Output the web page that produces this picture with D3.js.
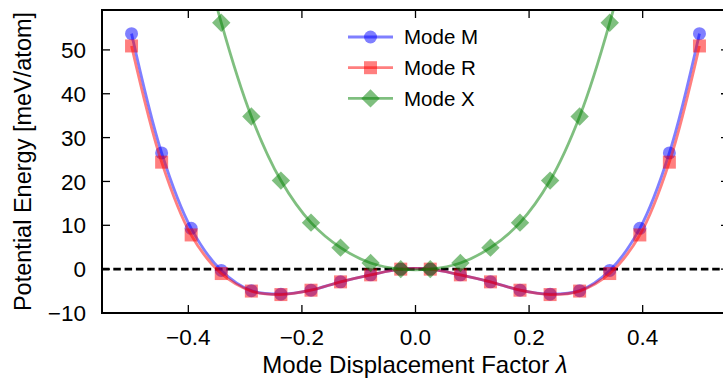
<!DOCTYPE html>
<html>
<head>
<meta charset="utf-8">
<script src="https://cdn.jsdelivr.net/npm/d3@7"></script>
<style>
  body { margin: 0; background: #fff; }
  svg { display: block; font-family: "Liberation Sans", Arial, sans-serif; }
</style>
</head>
<body>
<div id="chart"></div>
<script>
// displacement factor lambda
const lambdas = [-0.5, -0.447, -0.395, -0.342, -0.289, -0.237, -0.184, -0.132, -0.079, -0.026,
                 0.026, 0.079, 0.132, 0.184, 0.237, 0.289, 0.342, 0.395, 0.447, 0.5];
const modeM = [53.7, 26.5, 9.3, -0.3, -4.9, -5.7, -4.8, -2.9, -1.3, 0.0,
               0.0, -1.3, -2.9, -4.8, -5.7, -4.9, -0.3, 9.3, 26.5, 53.7];
const modeR = [50.9, 24.4, 7.8, -1.0, -5.0, -5.8, -4.8, -2.9, -1.3, 0.0,
               0.0, -1.3, -2.9, -4.8, -5.8, -5.0, -1.0, 7.8, 24.4, 50.9];
const modeX = [170, 122, 84, 56.2, 34.8, 20.2, 10.6, 4.9, 1.4, 0.0,
               0.0, 1.4, 4.9, 10.6, 20.2, 34.8, 56.2, 84, 122, 170];
const xTicks = [-0.4, -0.2, 0.0, 0.2, 0.4];
const yTicks = [-10, 0, 10, 20, 30, 40, 50];

const series = [
    { name: 'Mode M', values: modeM, color: '#0000ff', marker: 'circle' },
    { name: 'Mode R', values: modeR, color: '#ff0000', marker: 'square' },
    { name: 'Mode X', values: modeX, color: '#008000', marker: 'diamond' }
];

const width = 723, height = 378;
const plot = { left: 102, right: 729, top: 10, bottom: 313 };

const x = d3.scaleLinear().domain([-0.552, 0.552]).range([plot.left, plot.right]);
const y = d3.scaleLinear().domain([-10, 59.1]).range([plot.bottom, plot.top]);

const minus = s => s.replace('-', '\u2212');

const svg = d3.select('#chart').append('svg')
    .attr('width', width)
    .attr('height', height);

svg.append('defs').append('clipPath').attr('id', 'clip')
    .append('rect')
    .attr('x', plot.left).attr('y', plot.top)
    .attr('width', plot.right - plot.left).attr('height', plot.bottom - plot.top);

// zero line
svg.append('line')
    .attr('x1', plot.left).attr('x2', plot.right)
    .attr('y1', y(0)).attr('y2', y(0))
    .attr('stroke', '#000')
    .attr('stroke-width', 2.6)
    .attr('stroke-dasharray', '7.5,3.8');

const symbolPath = {
    circle: d3.symbol().type(d3.symbolCircle).size(Math.PI * 6.5 * 6.5),
    square: d3.symbol().type(d3.symbolSquare).size(13 * 13),
    diamond: d3.symbol().type(d3.symbolSquare).size(13 * 13)
};
const symbolRotate = { circle: 0, square: 0, diamond: 45 };

const line = d3.line()
    .x(d => x(d[0]))
    .y(d => y(d[1]))
    .curve(d3.curveCatmullRom);

const dataArea = svg.append('g').attr('clip-path', 'url(#clip)');

series.forEach(s => {
    const pts = lambdas.map((l, i) => [l, s.values[i]]);
    const g = dataArea.append('g');
    g.append('path')
        .datum(pts)
        .attr('d', line)
        .attr('fill', 'none')
        .attr('stroke', s.color)
        .attr('stroke-opacity', 0.5)
        .attr('stroke-width', 2.8);
    g.selectAll('path.marker').data(pts).enter()
        .append('path')
        .attr('class', 'marker')
        .attr('d', symbolPath[s.marker])
        .attr('transform', d => `translate(${x(d[0])},${y(d[1])}) rotate(${symbolRotate[s.marker]})`)
        .attr('fill', s.color)
        .attr('fill-opacity', 0.5);
});

// axes with inward ticks
const tickLen = 8;
const axisG = svg.append('g');

axisG.selectAll('line.xt').data(xTicks).enter().append('line')
    .attr('x1', d => x(d)).attr('x2', d => x(d))
    .attr('y1', plot.bottom).attr('y2', plot.bottom - tickLen)
    .attr('stroke', '#000').attr('stroke-width', 1.3);
axisG.selectAll('line.xtt').data(xTicks).enter().append('line')
    .attr('x1', d => x(d)).attr('x2', d => x(d))
    .attr('y1', plot.top).attr('y2', plot.top + tickLen)
    .attr('stroke', '#000').attr('stroke-width', 1.3);
axisG.selectAll('line.yt').data(yTicks).enter().append('line')
    .attr('x1', plot.left).attr('x2', plot.left + tickLen)
    .attr('y1', d => y(d)).attr('y2', d => y(d))
    .attr('stroke', '#000').attr('stroke-width', 1.3);
axisG.selectAll('line.ytr').data(yTicks).enter().append('line')
    .attr('x1', plot.right).attr('x2', plot.right - tickLen)
    .attr('y1', d => y(d)).attr('y2', d => y(d))
    .attr('stroke', '#000').attr('stroke-width', 1.3);

axisG.append('rect')
    .attr('x', plot.left).attr('y', plot.top)
    .attr('width', plot.right - plot.left).attr('height', plot.bottom - plot.top)
    .attr('fill', 'none')
    .attr('stroke', '#000')
    .attr('stroke-width', 2);

axisG.selectAll('text.xl').data(xTicks).enter().append('text')
    .attr('x', d => x(d))
    .attr('y', 337)
    .attr('dy', '0.36em')
    .attr('text-anchor', 'middle')
    .attr('font-size', 22.5)
    .text(d => minus(d3.format('.1f')(d)));

axisG.selectAll('text.yl').data(yTicks).enter().append('text')
    .attr('x', 86)
    .attr('y', d => y(d))
    .attr('dy', '0.36em')
    .attr('text-anchor', 'end')
    .attr('font-size', 22.5)
    .text(d => minus(String(d)));

const xLabel = svg.append('text')
    .attr('x', 415)
    .attr('y', 373)
    .attr('text-anchor', 'middle')
    .attr('font-size', 24)
    .text('Mode Displacement Factor ');
xLabel.append('tspan').attr('font-style', 'italic').text('λ');

svg.append('text')
    .attr('transform', `translate(31,${(plot.top + plot.bottom) / 2}) rotate(-90)`)
    .attr('text-anchor', 'middle')
    .attr('font-size', 23.5)
    .text('Potential Energy [meV/atom]');

// legend
const legend = svg.append('g');
series.forEach((s, i) => {
    const ly = 37 + i * 30.7;
    legend.append('line')
        .attr('x1', 348).attr('x2', 393)
        .attr('y1', ly).attr('y2', ly)
        .attr('stroke', s.color)
        .attr('stroke-opacity', 0.5)
        .attr('stroke-width', 2.8);
    legend.append('path')
        .attr('d', symbolPath[s.marker])
        .attr('transform', `translate(370.5,${ly}) rotate(${symbolRotate[s.marker]})`)
        .attr('fill', s.color)
        .attr('fill-opacity', 0.5);
    legend.append('text')
        .attr('x', 404)
        .attr('y', ly)
        .attr('dy', '0.36em')
        .attr('font-size', 20.5)
        .text(s.name);
});
</script>
</body>
</html>
